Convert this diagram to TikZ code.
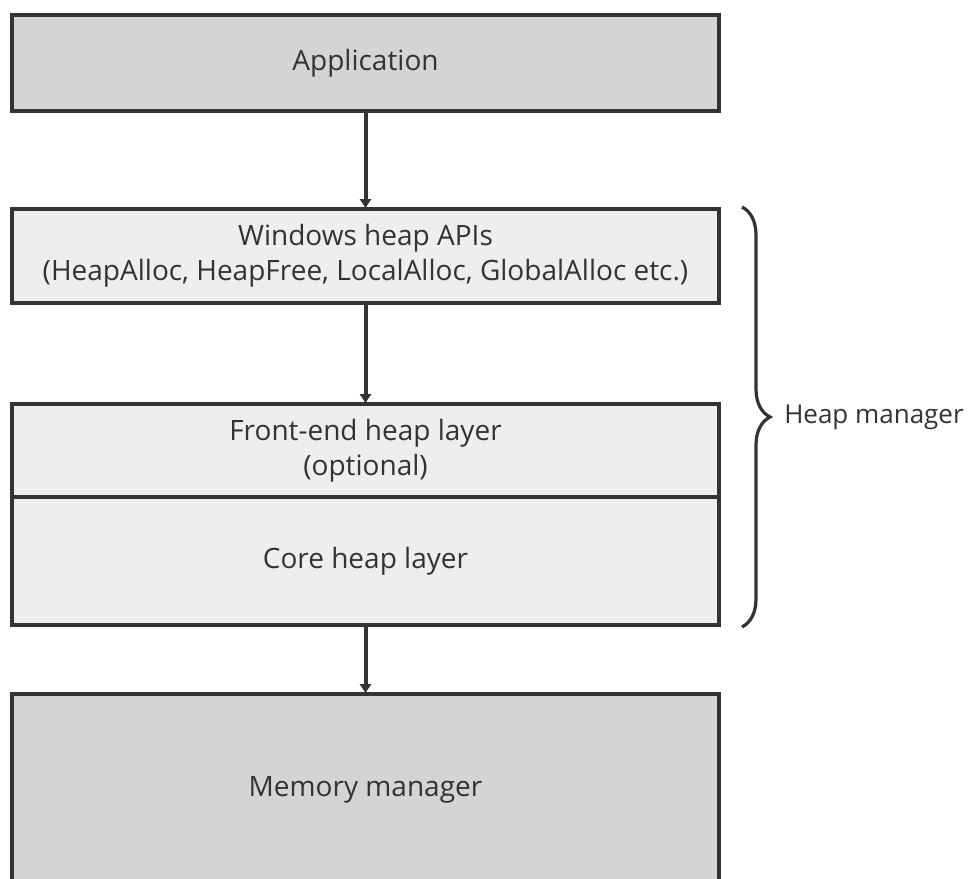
\documentclass[tikz,border=0pt]{standalone}
\usepackage{fontspec}
\setmainfont{Open Sans}
\usetikzlibrary{arrows.meta,positioning,decorations.pathreplacing}
\definecolor{darkfill}{RGB}{211,212,214}
\definecolor{lightfill}{RGB}{238,238,238}
\definecolor{edge}{RGB}{51,51,51}

\begin{document}
\begin{tikzpicture}[
  every node/.style={font=\fontsize{14}{17.5}\selectfont,text=edge},
  layer/.style={rectangle,draw=edge,line width=2pt,fill=darkfill,align=center,inner sep=0pt,outer sep=0pt,minimum width=353.5pt},
  apibox/.style={layer,fill=lightfill},
  line/.style={draw=edge,line width=2pt,-{Latex[length=5pt,width=6.5pt]}}]
\useasboundingbox (0,0) rectangle (485.5pt,-439.5pt);
\node[layer,minimum height=48pt] (app) at (182.75pt,-31.5pt) {Application};
\node[apibox,minimum height=47pt,below=49pt of app] (winapi) {Windows heap APIs\\(HeapAlloc, HeapFree, LocalAlloc, GlobalAlloc etc.)};
\node[apibox,minimum height=46.5pt,below=50.5pt of winapi] (frontend) {Front-end heap layer\\(optional)};
\node[apibox,minimum height=64pt,below=0pt of frontend] (core) {Core heap layer};
\node[layer,minimum height=96pt,below=34.5pt of core] (memmgr) {Memory manager};
\draw[line] (app) -- (winapi);
\draw[line] (winapi) -- (frontend);
\draw[line] (core) -- (memmgr);
% brace round the heap manager layers
\draw[edge,line width=1.6pt,decorate,decoration={brace,amplitude=14pt}]
  ([xshift=11.5pt,yshift=1pt]winapi.north east) -- node[right=17pt,font=\fontsize{13}{16}\selectfont] (heapmgr) {Heap manager}
  ([xshift=11.5pt,yshift=-1pt]core.south east);
\end{tikzpicture}
\end{document}
